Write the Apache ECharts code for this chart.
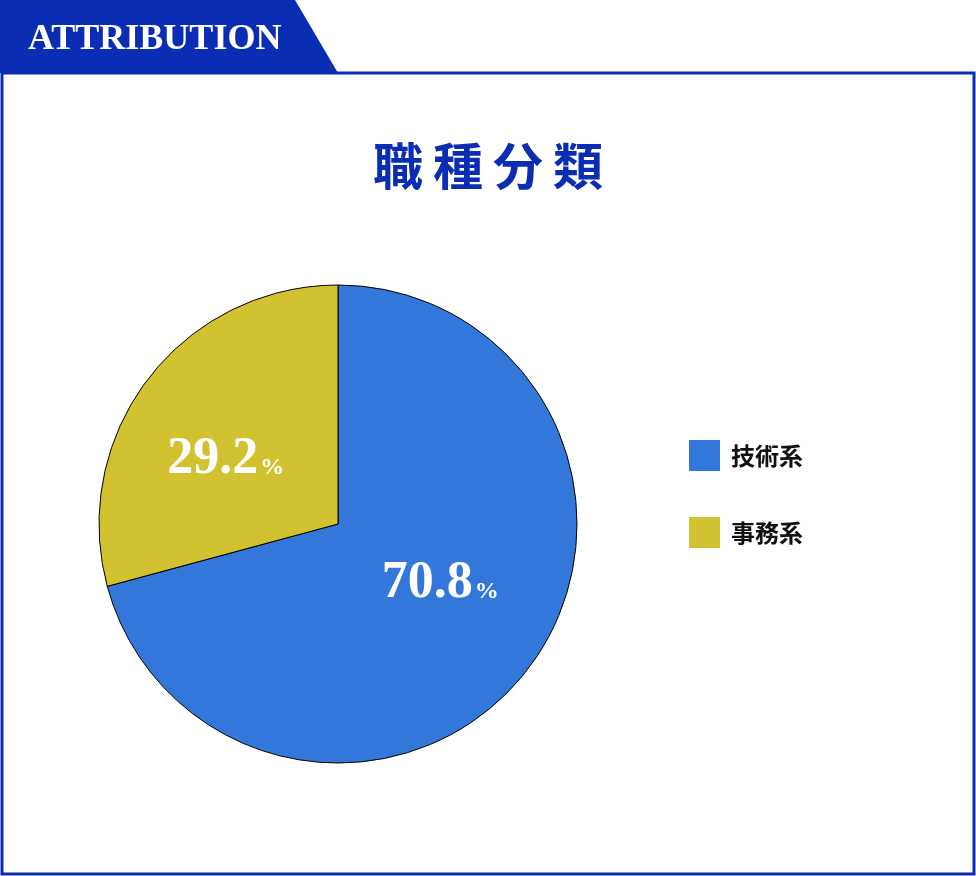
<!DOCTYPE html>
<html><head><meta charset="utf-8">
<script src="https://cdn.jsdelivr.net/npm/echarts@6/dist/echarts.min.js"></script>
<style>html,body{margin:0;padding:0;background:#fff}#c{width:976px;height:876px}</style>
</head><body><div id="c"></div>
<script>
const categories = ['技術系', '事務系'];
const values = [70.8, 29.2];
const colors = ['#3477db', '#d2c130'];
const title = '職種分類';
const header = 'ATTRIBUTION';
const navy = '#0a2db3';

const chart = echarts.init(document.getElementById('c'));
chart.setOption({
  animation: false,
  title: {text: title.split('').join('\u2009'), left: 'center', top: 136,
    textStyle: {color: navy, fontSize: 50, fontWeight: 'bold', fontFamily: 'Noto Sans CJK JP'}},
  legend: {orient: 'vertical', left: 684, top: 435, itemWidth: 31, itemHeight: 31, itemGap: 46,
    icon: 'rect', data: categories, itemStyle: {borderWidth: 0},
    textStyle: {fontSize: 24, fontWeight: 'bold', color: '#111', fontFamily: 'Noto Sans CJK JP', padding: [0,0,0,6]}},
  graphic: [
    {type: 'rect', shape: {x: 2, y: 73, width: 972, height: 801}, style: {fill: 'none', stroke: navy, lineWidth: 3}},
    {type: 'polygon', shape: {points: [[0,0],[295,0],[338,73],[0,73]]}, style: {fill: navy}},
    {type: 'text', left: 28, top: 22, style: {text: header, fill: '#fff', font: 'bold 36px "Liberation Sans Narrow"'}}
  ],
  series: [{
    type: 'pie', center: [338, 524], radius: 239, startAngle: 90, clockwise: true,
    data: categories.map((c, i) => ({name: c, value: values[i], itemStyle: {color: colors[i]},
      label: {offset: i === 0 ? [5, -15] : [-15, 10]}})),
    itemStyle: {borderColor: '#000', borderWidth: 1},
    label: {position: 'inside', formatter: p => '{a|' + p.value.toFixed(1) + '}{b|%}',
      rich: {a: {color: '#fff', fontSize: 52, fontWeight: 'bold', fontFamily: '"Liberation Sans Narrow"'},
             b: {color: '#fff', fontSize: 24, fontWeight: 'bold', fontFamily: '"Liberation Sans Narrow"', padding: [16,0,0,2]}}},
    labelLine: {show: false}
  }]
});
</script></body></html>
